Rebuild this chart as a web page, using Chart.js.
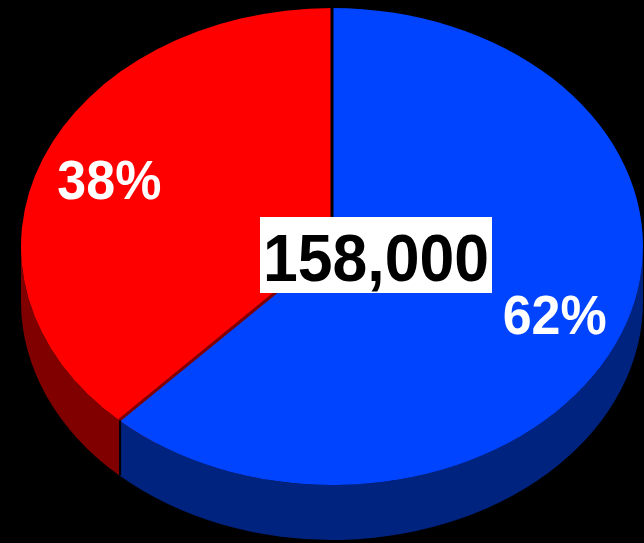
<!DOCTYPE html>
<html>
<head>
<meta charset="utf-8">
<script src="https://cdn.jsdelivr.net/npm/chart.js@4/dist/chart.umd.min.js"></script>
<style>
  html, body { margin: 0; padding: 0; background: #000; }
  #wrap { width: 644px; height: 543px; }
</style>
</head>
<body>
<div id="wrap"><canvas id="pie"></canvas></div>
<script>
const labels = ['A', 'B'];
const shares = [62, 38];
const topColors = ['#0044ff', '#ff0000'];
const sideColors = ['#00237f', '#800000'];
const totalLabel = '158,000';

// ellipse of the top face, and thickness of the disc
const CX = 332, CY = 246.5, RX = 311, RY = 238.5, DEPTH = 55;

const rim = (t, dy = 0) => [CX + Math.cos(t) * RX, CY + Math.sin(t) * RY + dy];

const pie3d = {
  id: 'pie3d',
  beforeDatasetsDraw(chart) {
    const ctx = chart.ctx;
    const arcs = chart.getDatasetMeta(0).data;

    // radial cut faces that look toward the viewer
    arcs.forEach((arc, i) => {
      if (Math.cos(arc.startAngle) < -0.01) {
        const p = rim(arc.startAngle);
        ctx.fillStyle = sideColors[i];
        ctx.beginPath();
        ctx.moveTo(CX, CY);
        ctx.lineTo(p[0], p[1]);
        ctx.lineTo(p[0], p[1] + DEPTH);
        ctx.lineTo(CX, CY + DEPTH);
        ctx.closePath();
        ctx.fill();
      }
    });

    // outer walls, front half only
    arcs.forEach((arc, i) => {
      [-2 * Math.PI, 0, 2 * Math.PI].forEach(k => {
        const s = Math.max(arc.startAngle, k), e = Math.min(arc.endAngle, k + Math.PI);
        if (e <= s) return;
        ctx.fillStyle = sideColors[i];
        ctx.beginPath();
        ctx.ellipse(CX, CY, RX, RY, 0, s, e, false);
        ctx.ellipse(CX, CY + DEPTH, RX, RY, 0, e, s, true);
        ctx.closePath();
        ctx.fill();
      });
    });

    // squash the flat pie onto the top ellipse
    const a = arcs[0];
    ctx.save();
    ctx.translate(CX, CY);
    ctx.scale(RX / a.outerRadius, RY / a.outerRadius);
    ctx.translate(-a.x, -a.y);
  },
  afterDatasetsDraw(chart) {
    const ctx = chart.ctx;
    ctx.restore();
    const arcs = chart.getDatasetMeta(0).data;

    // slice gaps on top, and seams on the wall
    arcs.forEach((arc, i) => {
      const p = rim(arc.startAngle);
      const facing = Math.cos(arc.startAngle) < -0.01;
      ctx.strokeStyle = facing ? sideColors[i] : '#000';
      ctx.lineWidth = 3;
      ctx.beginPath();
      ctx.moveTo(CX, CY);
      ctx.lineTo(p[0], p[1]);
      ctx.stroke();
      if (Math.sin(arc.startAngle) > 0) {
        ctx.strokeStyle = '#000';
        ctx.lineWidth = 2;
        ctx.beginPath();
        ctx.moveTo(p[0] + 1, p[1]);
        ctx.lineTo(p[0] + 1, p[1] + DEPTH);
        ctx.stroke();
      }
    });

    // percentage labels
    ctx.fillStyle = '#fff';
    ctx.font = 'bold 56px "Liberation Sans", Arial, sans-serif';
    ctx.textAlign = 'center';
    ctx.textBaseline = 'alphabetic';
    const sum = shares.reduce((s, v) => s + v, 0);
    arcs.forEach((arc, i) => {
      const mid = (arc.startAngle + arc.endAngle) / 2;
      const x = CX + Math.cos(mid) * RX * 0.77;
      const y = CY + Math.sin(mid) * RY * 0.77;
      ctx.fillText(Math.round(shares[i] / sum * 100) + '%', x, y + 20, 104);
    });

    // total in a white box
    ctx.fillStyle = '#fff';
    ctx.fillRect(260, 217, 232, 76);
    ctx.fillStyle = '#000';
    ctx.font = 'bold 67px "Liberation Sans", Arial, sans-serif';
    ctx.fillText(totalLabel, 376, 281, 226);
  }
};

new Chart(document.getElementById('pie'), {
  type: 'pie',
  data: {
    labels,
    datasets: [{ data: shares, backgroundColor: topColors, borderWidth: 0 }]
  },
  options: {
    responsive: true,
    maintainAspectRatio: false,
    animation: false,
    events: [],
    layout: { padding: 0 },
    plugins: { legend: { display: false }, tooltip: { enabled: false } }
  },
  plugins: [pie3d]
});
</script>
</body>
</html>
